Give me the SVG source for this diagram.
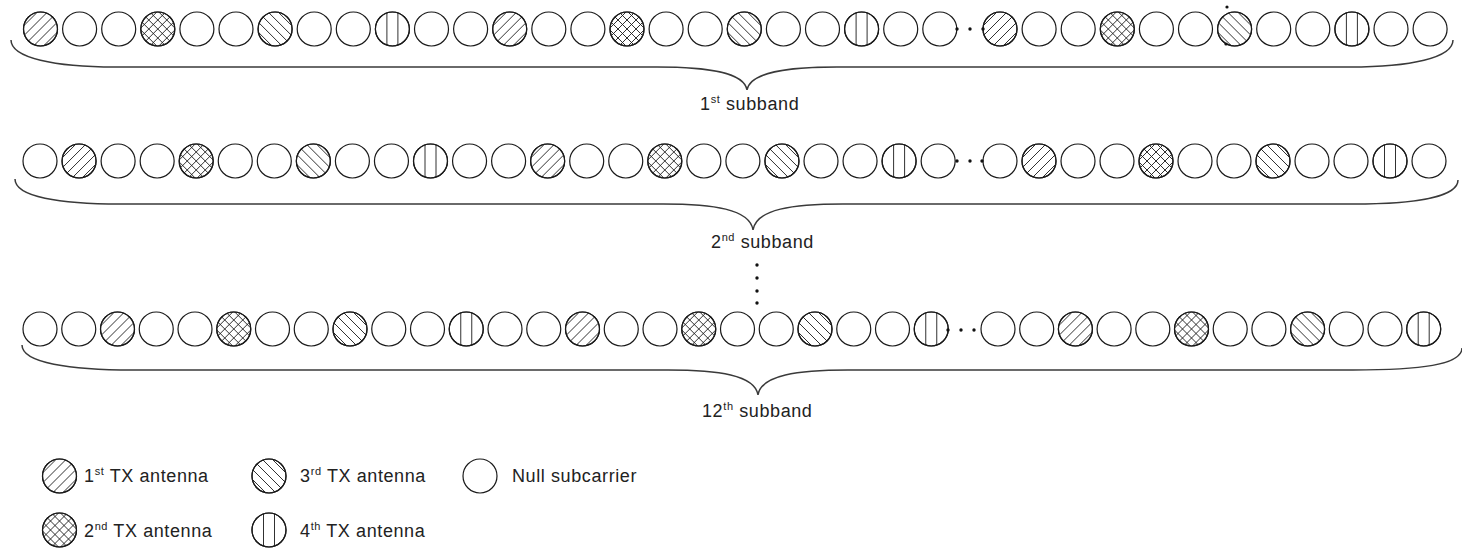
<svg xmlns="http://www.w3.org/2000/svg" xmlns:xlink="http://www.w3.org/1999/xlink" width="1462" height="548" viewBox="0 0 1462 548">
<style>
.c{fill:#fff;stroke:#1a1a1a;stroke-width:1.2}
.ci{fill:none;stroke:#1a1a1a;stroke-width:1.2}
.h{fill:none;stroke:#1a1a1a;stroke-width:0.9}
.br{fill:none;stroke:#3a3a3a;stroke-width:1.5}
.d{fill:#111}
text{font-family:"Liberation Sans",Arial,sans-serif;font-size:18px;fill:#222;letter-spacing:0.6px}
.sup{font-size:11px}
</style>
<defs>
<clipPath id="cc"><circle r="17"/></clipPath>
<g id="t0"><circle class="c" r="17"/></g>
<g id="t1"><circle class="c" r="17"/><path class="h" clip-path="url(#cc)" d="M5,-25L-45,25M15,-25L-35,25M25,-25L-25,25M35,-25L-15,25M45,-25L-5,25"/><circle class="ci" r="17"/></g>
<g id="t3"><circle class="c" r="17"/><path class="h" clip-path="url(#cc)" d="M-45,-25L5,25M-35,-25L15,25M-25,-25L25,25M-15,-25L35,25M-5,-25L45,25"/><circle class="ci" r="17"/></g>
<g id="t2"><circle class="c" r="17"/><path class="h" clip-path="url(#cc)" d="M7,-25L-43,25M16,-25L-34,25M25,-25L-25,25M34,-25L-16,25M43,-25L-7,25M-43,-25L7,25M-34,-25L16,25M-25,-25L25,25M-16,-25L34,25M-7,-25L43,25"/><circle class="ci" r="17"/></g>
<g id="t4"><circle class="c" r="17"/><path class="h" clip-path="url(#cc)" d="M-5.5,-18V18M5.5,-18V18"/><circle class="ci" r="17"/></g>
</defs>
<rect width="1462" height="548" fill="#fff"/>

<g id="row1">
<use href="#t1" x="40.5" y="29"/><use href="#t0" x="79.6" y="29"/><use href="#t0" x="118.7" y="29"/>
<use href="#t2" x="157.8" y="29"/><use href="#t0" x="196.9" y="29"/><use href="#t0" x="236" y="29"/>
<use href="#t3" x="275.1" y="29"/><use href="#t0" x="314.2" y="29"/><use href="#t0" x="353.3" y="29"/>
<use href="#t4" x="392.4" y="29"/><use href="#t0" x="431.5" y="29"/><use href="#t0" x="470.6" y="29"/>
<use href="#t1" x="509.7" y="29"/><use href="#t0" x="548.8" y="29"/><use href="#t0" x="587.9" y="29"/>
<use href="#t2" x="627" y="29"/><use href="#t0" x="666.1" y="29"/><use href="#t0" x="705.2" y="29"/>
<use href="#t3" x="744.3" y="29"/><use href="#t0" x="783.4" y="29"/><use href="#t0" x="822.5" y="29"/>
<use href="#t4" x="861.6" y="29"/><use href="#t0" x="900.7" y="29"/><use href="#t0" x="939.8" y="29"/>
<use href="#t1" x="1000" y="29"/><use href="#t0" x="1039.1" y="29"/><use href="#t0" x="1078.2" y="29"/>
<use href="#t2" x="1117.3" y="29"/><use href="#t0" x="1156.4" y="29"/><use href="#t0" x="1195.5" y="29"/>
<use href="#t3" x="1234.6" y="29"/><use href="#t0" x="1273.7" y="29"/><use href="#t0" x="1312.8" y="29"/>
<use href="#t4" x="1351.9" y="29"/><use href="#t0" x="1391" y="29"/><use href="#t0" x="1430.1" y="29"/>
<circle class="d" cx="957" cy="29" r="1.7"/><circle class="d" cx="970" cy="29" r="1.7"/><circle class="d" cx="983" cy="29" r="1.7"/>
<circle class="d" cx="1227" cy="7" r="1.6"/><circle class="d" cx="1226" cy="44" r="1.6"/>
</g>

<g id="row2">
<use href="#t0" x="40" y="161"/><use href="#t1" x="79.05" y="161"/><use href="#t0" x="118.1" y="161"/>
<use href="#t0" x="157.15" y="161"/><use href="#t2" x="196.2" y="161"/><use href="#t0" x="235.25" y="161"/>
<use href="#t0" x="274.3" y="161"/><use href="#t3" x="313.35" y="161"/><use href="#t0" x="352.4" y="161"/>
<use href="#t0" x="391.45" y="161"/><use href="#t4" x="430.5" y="161"/><use href="#t0" x="469.55" y="161"/>
<use href="#t0" x="508.6" y="161"/><use href="#t1" x="547.65" y="161"/><use href="#t0" x="586.7" y="161"/>
<use href="#t0" x="625.75" y="161"/><use href="#t2" x="664.8" y="161"/><use href="#t0" x="703.85" y="161"/>
<use href="#t0" x="742.9" y="161"/><use href="#t3" x="781.95" y="161"/><use href="#t0" x="821" y="161"/>
<use href="#t0" x="860.05" y="161"/><use href="#t4" x="899.1" y="161"/><use href="#t0" x="938.15" y="161"/>
<use href="#t0" x="1000" y="161"/><use href="#t1" x="1039" y="161"/><use href="#t0" x="1078" y="161"/>
<use href="#t0" x="1117" y="161"/><use href="#t2" x="1156" y="161"/><use href="#t0" x="1195" y="161"/>
<use href="#t0" x="1234" y="161"/><use href="#t3" x="1273" y="161"/><use href="#t0" x="1312" y="161"/>
<use href="#t0" x="1351" y="161"/><use href="#t4" x="1390" y="161"/><use href="#t0" x="1429" y="161"/>
<circle class="d" cx="957" cy="161" r="1.7"/><circle class="d" cx="970" cy="161" r="1.7"/><circle class="d" cx="982" cy="161" r="1.7"/>
</g>

<g id="vdots">
<circle class="d" cx="757" cy="265" r="1.7"/><circle class="d" cx="757" cy="278" r="1.7"/><circle class="d" cx="757" cy="291" r="1.7"/><circle class="d" cx="757" cy="303" r="1.7"/>
</g>

<g id="row3">
<use href="#t0" x="40" y="329"/><use href="#t0" x="78.75" y="329"/><use href="#t1" x="117.5" y="329"/>
<use href="#t0" x="156.25" y="329"/><use href="#t0" x="195" y="329"/><use href="#t2" x="233.75" y="329"/>
<use href="#t0" x="272.5" y="329"/><use href="#t0" x="311.25" y="329"/><use href="#t3" x="350" y="329"/>
<use href="#t0" x="388.75" y="329"/><use href="#t0" x="427.5" y="329"/><use href="#t4" x="466.25" y="329"/>
<use href="#t0" x="505" y="329"/><use href="#t0" x="543.75" y="329"/><use href="#t1" x="582.5" y="329"/>
<use href="#t0" x="621.25" y="329"/><use href="#t0" x="660" y="329"/><use href="#t2" x="698.75" y="329"/>
<use href="#t0" x="737.5" y="329"/><use href="#t0" x="776.25" y="329"/><use href="#t3" x="815" y="329"/>
<use href="#t0" x="853.75" y="329"/><use href="#t0" x="892.5" y="329"/><use href="#t4" x="931.25" y="329"/>
<use href="#t0" x="998" y="329"/><use href="#t0" x="1036.7" y="329"/><use href="#t1" x="1075.4" y="329"/>
<use href="#t0" x="1114.1" y="329"/><use href="#t0" x="1152.8" y="329"/><use href="#t2" x="1191.5" y="329"/>
<use href="#t0" x="1230.2" y="329"/><use href="#t0" x="1268.9" y="329"/><use href="#t3" x="1307.6" y="329"/>
<use href="#t0" x="1346.3" y="329"/><use href="#t0" x="1385" y="329"/><use href="#t4" x="1423.7" y="329"/>
<circle class="d" cx="948" cy="330" r="1.7"/><circle class="d" cx="961" cy="330" r="1.7"/><circle class="d" cx="974" cy="330" r="1.7"/>
</g>

<g id="connectors">
<path class="br" d="M11,40 C11,58 55,67 115,67 L657,67 C707,67 744,72 747,90 C750,72 787,67 837,67 L1350,67 C1410,67 1453,58 1453,40"/>
<path class="br" d="M15,179 C15,197 60,204 120,204 L663,204 C713,204 750,209 753,230 C756,209 793,204 843,204 L1353,204 C1415,204 1458,197 1458,180"/>
<path class="br" d="M22,345 C22,363 70,370 133,370 L668,370 C718,370 755,375 758,395 C761,375 798,370 848,370 L1353,370 C1420,370 1462,365 1462,348"/>
</g>

<g id="labels">
<text x="700" y="110">1<tspan class="sup" dy="-7">st</tspan><tspan dy="7"> subband</tspan></text>
<text x="711" y="248">2<tspan class="sup" dy="-7">nd</tspan><tspan dy="7"> subband</tspan></text>
<text x="702" y="417">12<tspan class="sup" dy="-7">th</tspan><tspan dy="7"> subband</tspan></text>
</g>

<g id="legend-1st">
<use href="#t1" x="59.5" y="476"/>
<text x="84" y="482">1<tspan class="sup" dy="-7">st</tspan><tspan dy="7"> TX antenna</tspan></text>
</g>
<g id="legend-3rd">
<use href="#t3" x="269" y="476"/>
<text x="300" y="482">3<tspan class="sup" dy="-7">rd</tspan><tspan dy="7"> TX antenna</tspan></text>
</g>
<g id="legend-null">
<use href="#t0" x="480" y="476"/>
<text x="512" y="482">Null subcarrier</text>
</g>
<g id="legend-2nd">
<use href="#t2" x="59.5" y="530"/>
<text x="84" y="537">2<tspan class="sup" dy="-7">nd</tspan><tspan dy="7"> TX antenna</tspan></text>
</g>
<g id="legend-4th">
<use href="#t4" x="269" y="530"/>
<text x="300" y="537">4<tspan class="sup" dy="-7">th</tspan><tspan dy="7"> TX antenna</tspan></text>
</g>
</svg>
